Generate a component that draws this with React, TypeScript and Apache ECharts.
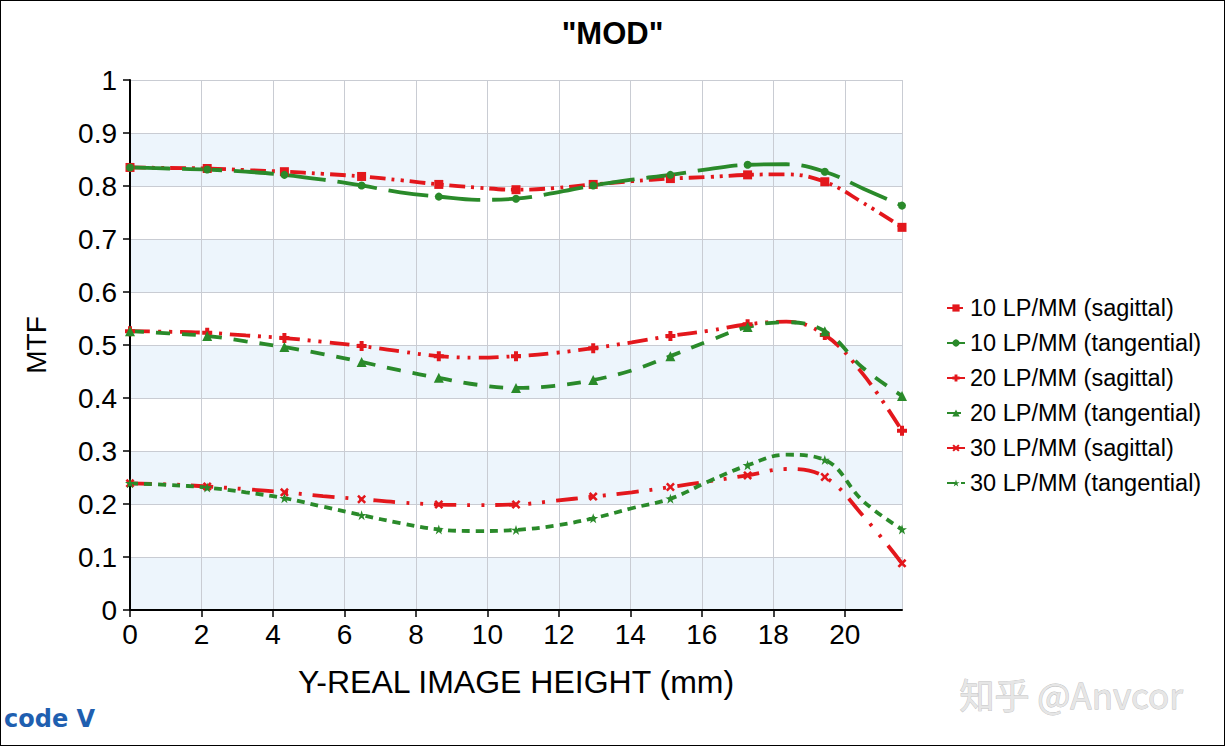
import React, { useEffect, useRef } from "react";
import * as echarts from "echarts";

// Field heights (mm): measured points at even indices, curve readings in between
const fieldHeights = [0, 1.08, 2.16, 3.24, 4.32, 5.4, 6.48, 7.56, 8.64, 9.72, 10.8, 11.88, 12.96, 14.04, 15.12, 16.2, 17.28, 18.36, 19.44, 20.52, 21.6];

const sag10 = [0.835, 0.834, 0.833, 0.830, 0.827, 0.823, 0.818, 0.811, 0.803, 0.797, 0.793, 0.796, 0.803, 0.809, 0.814, 0.817, 0.821, 0.822, 0.808, 0.768, 0.722];
const tan10 = [0.835, 0.833, 0.831, 0.827, 0.821, 0.812, 0.801, 0.788, 0.780, 0.774, 0.776, 0.787, 0.801, 0.812, 0.821, 0.832, 0.840, 0.841, 0.827, 0.795, 0.763];
const sag20 = [0.526, 0.525, 0.523, 0.518, 0.513, 0.506, 0.498, 0.488, 0.479, 0.476, 0.479, 0.485, 0.494, 0.505, 0.517, 0.527, 0.539, 0.544, 0.519, 0.444, 0.338];
const tan20 = [0.526, 0.522, 0.517, 0.507, 0.496, 0.483, 0.468, 0.452, 0.438, 0.425, 0.419, 0.423, 0.434, 0.452, 0.479, 0.508, 0.534, 0.543, 0.526, 0.456, 0.404];
const sag30 = [0.239, 0.237, 0.233, 0.228, 0.222, 0.215, 0.209, 0.203, 0.199, 0.198, 0.199, 0.206, 0.214, 0.222, 0.232, 0.243, 0.254, 0.266, 0.251, 0.177, 0.088];
const tan30 = [0.239, 0.236, 0.231, 0.222, 0.211, 0.195, 0.179, 0.164, 0.152, 0.149, 0.151, 0.159, 0.173, 0.192, 0.210, 0.243, 0.273, 0.293, 0.283, 0.205, 0.152];

const seriesNames = [
  "10 LP/MM (sagittal)",
  "10 LP/MM (tangential)",
  "20 LP/MM (sagittal)",
  "20 LP/MM (tangential)",
  "30 LP/MM (sagittal)",
  "30 LP/MM (tangential)",
];

const xTicks = [0, 2, 4, 6, 8, 10, 12, 14, 16, 18, 20];

const RED = "#e3171c";
const GREEN = "#2a8a2a";

const PLUS = "path://M3,0H7V3H10V7H7V10H3V7H0V3H3Z";
const XMARK = "path://M2,0L5,3L8,0L10,2L7,5L10,8L8,10L5,7L2,10L0,8L3,5L0,2Z";
const STAR = "path://M5,0L6.2,3.6L10,3.6L6.9,5.8L8.1,9.5L5,7.2L1.9,9.5L3.1,5.8L0,3.6L3.8,3.6Z";

const FONT = "Liberation Sans, Arial, sans-serif";

function buildData(values: number[]) {
  return values.map((v, i) =>
    i % 2 === 0 ? [fieldHeights[i], v] : { value: [fieldHeights[i], v], symbol: "none" }
  );
}

export default function App() {
  const ref = useRef<HTMLDivElement>(null);

  useEffect(() => {
    document.body.style.margin = "0";
    if (!ref.current) return;
    const chart = echarts.init(ref.current, undefined, { renderer: "svg" });

    const mk = (
      name: string,
      values: number[],
      color: string,
      dash: number[],
      symbol: string,
      symbolSize: number
    ) => ({
      name,
      type: "line",
      data: buildData(values),
      smooth: 0.4,
      symbol,
      symbolSize,
      showAllSymbol: true,
      itemStyle: { color },
      lineStyle: { color, width: 3.8, type: dash },
      emphasis: { disabled: true },
    });

    chart.setOption({
      animation: false,
      backgroundColor: "#ffffff",
      title: {
        text: '"MOD"',
        left: "center",
        top: 12,
        textStyle: { fontFamily: FONT, fontSize: 31, fontWeight: "bold", color: "#000" },
      },
      legend: {
        orient: "vertical",
        left: 940,
        top: 290,
        itemGap: 11,
        itemWidth: 18,
        itemHeight: 9,
        textStyle: { fontFamily: FONT, fontSize: 23.5, color: "#000", lineHeight: 24 },
        data: seriesNames,
      },
      grid: { left: 129, right: 322, top: 79, bottom: 135 },
      xAxis: {
        type: "value",
        min: 0,
        max: 21.6,
        interval: 2,
        name: "Y-REAL IMAGE HEIGHT (mm)",
        nameLocation: "middle",
        nameGap: 56,
        nameTextStyle: { fontFamily: FONT, fontSize: 32, color: "#000" },
        axisLine: { show: true, onZero: false, lineStyle: { color: "#000", width: 2 } },
        axisTick: { show: true, length: 7, lineStyle: { color: "#000", width: 1.5 } },
        axisLabel: {
          fontFamily: FONT,
          fontSize: 28,
          color: "#000",
          margin: 10,
          showMaxLabel: false,
          formatter: (v: number) => (xTicks.includes(v) ? String(v) : ""),
        },
        splitLine: { show: true, lineStyle: { color: "#c9ccd3", width: 1 } },
      },
      yAxis: {
        type: "value",
        min: 0,
        max: 1,
        interval: 0.1,
        name: "MTF",
        nameLocation: "middle",
        nameGap: 80,
        nameTextStyle: { fontFamily: FONT, fontSize: 28, color: "#000" },
        axisLine: { show: true, lineStyle: { color: "#000", width: 2 } },
        axisTick: { show: true, length: 7, lineStyle: { color: "#000", width: 1.5 } },
        axisLabel: {
          fontFamily: FONT,
          fontSize: 28,
          color: "#000",
          margin: 13,
          formatter: (v: number) => String(Math.round(v * 10) / 10),
        },
        splitLine: { show: true, lineStyle: { color: "#c9ccd3", width: 1 } },
        splitArea: { show: true, areaStyle: { color: ["#edf5fc", "#ffffff"] } },
      },
      series: [
        mk(seriesNames[0], sag10, RED, [16, 6, 3, 6, 3, 6], "rect", 9),
        mk(seriesNames[1], tan10, GREEN, [40, 12], "circle", 8),
        mk(seriesNames[2], sag20, RED, [20, 8, 3, 8, 3, 8], PLUS, 10),
        mk(seriesNames[3], tan20, GREEN, [14, 12], "triangle", 10),
        mk(seriesNames[4], sag30, RED, [22, 11, 3, 11, 3, 11], XMARK, 9),
        mk(seriesNames[5], tan30, GREEN, [8, 6], STAR, 10),
      ],
      graphic: [
        {
          type: "text",
          left: 3,
          top: 706,
          style: {
            text: "code V",
            fontFamily: "DejaVu Sans, sans-serif",
            fontSize: 24,
            fontWeight: "bold",
            fill: "#1f5fb0",
          },
        },
        {
          type: "text",
          left: 958,
          top: 675,
          style: {
            text: "知乎 @Anvcor",
            fontFamily: "Noto Sans CJK SC, Noto Sans, sans-serif",
            fontSize: 35,
            fill: "#e6e6e6",
            stroke: "#bdbdbd",
            lineWidth: 0.8,
          },
        },
      ],
    });

    return () => chart.dispose();
  }, []);

  return (
    <div
      ref={ref}
      style={{
        width: 1225,
        height: 746,
        boxSizing: "border-box",
        border: "1px solid #000",
        background: "#fff",
      }}
    />
  );
}
